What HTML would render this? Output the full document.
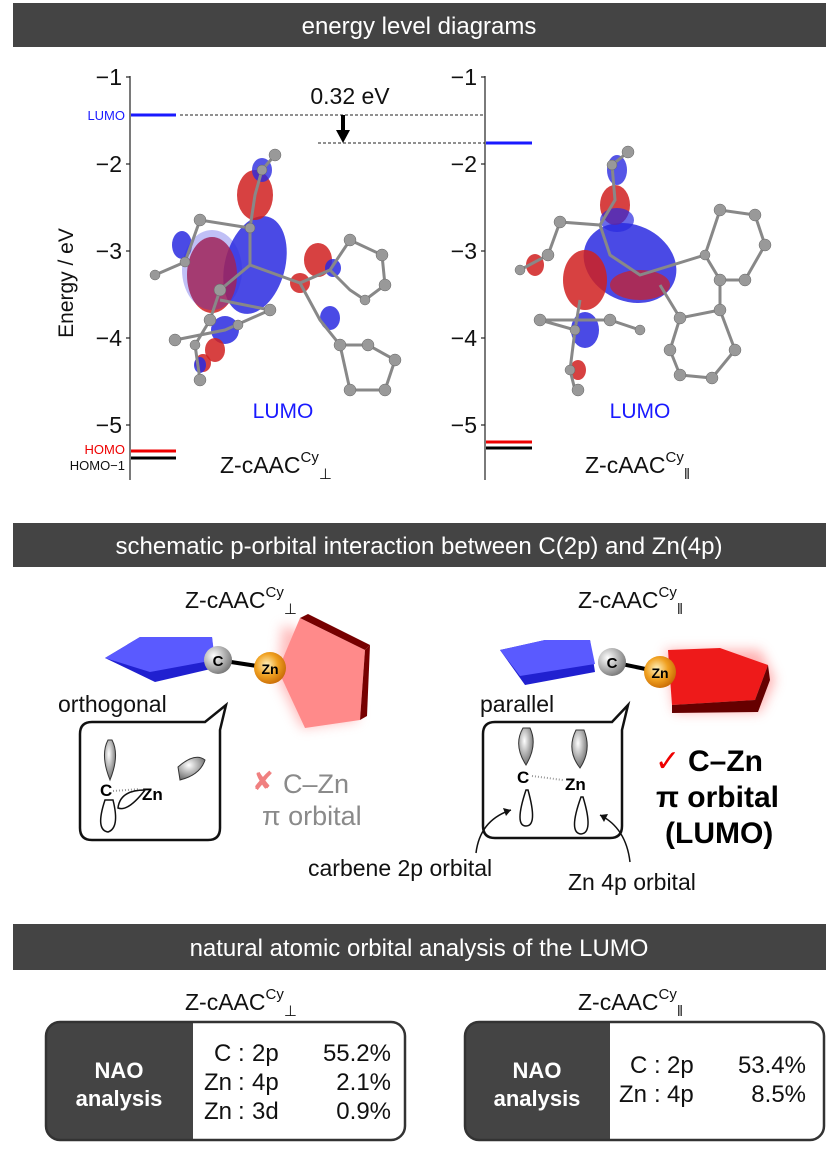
<!DOCTYPE html>
<html><head><meta charset="utf-8"><style>
html,body{margin:0;padding:0;background:#fff;}
svg{display:block;font-family:"Liberation Sans",Arial,sans-serif;}
</style></head><body>
<svg width="838" height="1158" viewBox="0 0 838 1158" xmlns="http://www.w3.org/2000/svg">
<defs>
<radialGradient id="gb" cx="35%" cy="35%" r="70%"><stop offset="0" stop-color="#fff"/><stop offset="1" stop-color="#777"/></radialGradient>
<radialGradient id="go" cx="40%" cy="40%" r="70%"><stop offset="0" stop-color="#fff3c0"/><stop offset="0.5" stop-color="#f0a020"/><stop offset="1" stop-color="#c06000"/></radialGradient>
<radialGradient id="gl" cx="40%" cy="35%" r="70%"><stop offset="0" stop-color="#fff"/><stop offset="1" stop-color="#666"/></radialGradient>
<filter id="blur" x="-30%" y="-30%" width="160%" height="160%"><feGaussianBlur stdDeviation="6"/></filter>
</defs>

<rect x="13" y="3" width="813" height="44" fill="#444"/>
<text x="419" y="34" font-size="24" fill="#fff" text-anchor="middle">energy level diagrams</text>
<rect x="13" y="523" width="813" height="44" fill="#444"/>
<text x="419" y="554" font-size="24" fill="#fff" text-anchor="middle">schematic p-orbital interaction between C(2p) and Zn(4p)</text>
<rect x="13" y="924" width="813" height="46" fill="#444"/>
<text x="419" y="956" font-size="24" fill="#fff" text-anchor="middle">natural atomic orbital analysis of the LUMO</text>

<g stroke="#222" stroke-width="1.2">
<line x1="130" y1="76" x2="130" y2="480"/>
<line x1="485" y1="76" x2="485" y2="480"/>
<line x1="126" y1="77" x2="130" y2="77"/><line x1="126" y1="164" x2="130" y2="164"/><line x1="126" y1="251" x2="130" y2="251"/><line x1="126" y1="338" x2="130" y2="338"/><line x1="126" y1="425" x2="130" y2="425"/>
<line x1="481" y1="77" x2="485" y2="77"/><line x1="481" y1="164" x2="485" y2="164"/><line x1="481" y1="251" x2="485" y2="251"/><line x1="481" y1="338" x2="485" y2="338"/><line x1="481" y1="425" x2="485" y2="425"/>
</g>
<g font-size="23" fill="#111" text-anchor="end">
<text x="122" y="85">−1</text><text x="122" y="172">−2</text><text x="122" y="259">−3</text><text x="122" y="346">−4</text><text x="122" y="433">−5</text>
<text x="477" y="85">−1</text><text x="477" y="172">−2</text><text x="477" y="259">−3</text><text x="477" y="346">−4</text><text x="477" y="433">−5</text>
</g>
<text transform="translate(73,283) rotate(-90)" font-size="21" fill="#111" text-anchor="middle">Energy / eV</text>

<line x1="131" y1="115" x2="176" y2="115" stroke="#1a1aff" stroke-width="3"/>
<line x1="131" y1="451" x2="176" y2="451" stroke="#e00" stroke-width="3"/>
<line x1="131" y1="458" x2="176" y2="458" stroke="#000" stroke-width="3"/>
<line x1="486" y1="143" x2="532" y2="143" stroke="#1a1aff" stroke-width="3"/>
<line x1="486" y1="442" x2="532" y2="442" stroke="#e00" stroke-width="3"/>
<line x1="486" y1="448" x2="532" y2="448" stroke="#000" stroke-width="3"/>
<text x="125" y="120" font-size="13" fill="#1a1aff" text-anchor="end">LUMO</text>
<text x="125" y="454" font-size="13" fill="#e00" text-anchor="end">HOMO</text>
<text x="125" y="470" font-size="13" fill="#111" text-anchor="end">HOMO−1</text>
<line x1="180" y1="115" x2="485" y2="115" stroke="#222" stroke-dasharray="3,2" stroke-width="1"/>
<line x1="318" y1="143" x2="485" y2="143" stroke="#222" stroke-dasharray="3,2" stroke-width="1"/>
<line x1="343" y1="115" x2="343" y2="132" stroke="#000" stroke-width="4"/>
<polygon points="336,130 350,130 343,143" fill="#000"/>
<text x="350" y="104" font-size="23" fill="#111" text-anchor="middle">0.32 eV</text>

<g>
<ellipse cx="255" cy="265" rx="30" ry="50" fill="#2a2ae0" opacity="0.85" transform="rotate(15 255 265)"/>
<ellipse cx="212" cy="275" rx="25" ry="38" fill="#d02020" opacity="0.85"/>
<ellipse cx="212" cy="270" rx="30" ry="40" fill="#3030e0" opacity="0.3"/>
<ellipse cx="255" cy="195" rx="18" ry="25" fill="#d02020" opacity="0.85"/>
<ellipse cx="262" cy="170" rx="10" ry="12" fill="#2a2ae0" opacity="0.8"/>
<ellipse cx="182" cy="245" rx="10" ry="14" fill="#2a2ae0" opacity="0.85"/>
<ellipse cx="318" cy="260" rx="14" ry="17" fill="#d02020" opacity="0.85"/>
<ellipse cx="300" cy="283" rx="10" ry="10" fill="#d02020" opacity="0.85"/>
<ellipse cx="333" cy="268" rx="8" ry="9" fill="#2a2ae0" opacity="0.85"/>
<ellipse cx="330" cy="318" rx="10" ry="12" fill="#2a2ae0" opacity="0.85"/>
<ellipse cx="225" cy="330" rx="14" ry="14" fill="#2a2ae0" opacity="0.85"/>
<ellipse cx="215" cy="350" rx="10" ry="12" fill="#d02020" opacity="0.85"/>
<ellipse cx="203" cy="363" rx="8" ry="9" fill="#d02020" opacity="0.85"/>
<ellipse cx="200" cy="365" rx="6" ry="8" fill="#2a2ae0" opacity="0.85"/>
<g stroke="#888" stroke-width="3" fill="none">
<polyline points="275,155 262,170 255,195 250,228 200,220 185,262 155,275"/>
<polyline points="250,228 250,265 220,290 210,320 195,345 200,380"/>
<polyline points="250,265 300,283 330,270 350,240 382,255 385,285 365,300 350,290 330,270"/>
<polyline points="300,283 320,320 340,345 368,345 395,360 385,390 350,390 340,345"/>
<polyline points="220,300 270,310 225,330 175,340"/>
</g>
<g fill="#999" stroke="#666" stroke-width="0.5">
<circle cx="275" cy="155" r="6"/><circle cx="262" cy="170" r="5"/><circle cx="250" cy="228" r="5"/><circle cx="200" cy="220" r="6"/><circle cx="185" cy="262" r="5"/><circle cx="155" cy="275" r="5"/>
<circle cx="220" cy="290" r="6"/><circle cx="210" cy="320" r="6"/><circle cx="195" cy="345" r="5"/><circle cx="200" cy="380" r="6"/>
<circle cx="350" cy="240" r="6"/><circle cx="382" cy="255" r="6"/><circle cx="385" cy="285" r="6"/><circle cx="365" cy="300" r="5"/>
<circle cx="340" cy="345" r="6"/><circle cx="368" cy="345" r="6"/><circle cx="395" cy="360" r="6"/><circle cx="385" cy="390" r="6"/><circle cx="350" cy="390" r="6"/>
<circle cx="270" cy="310" r="6"/><circle cx="175" cy="340" r="6"/><circle cx="238" cy="325" r="5"/>
</g>
</g>
<g>
<ellipse cx="630" cy="263" rx="48" ry="38" fill="#2a2ae0" opacity="0.85" transform="rotate(25 630 263)"/>
<ellipse cx="640" cy="285" rx="30" ry="15" fill="#d02020" opacity="0.7"/>
<ellipse cx="585" cy="280" rx="22" ry="30" fill="#d02020" opacity="0.85"/>
<ellipse cx="615" cy="205" rx="15" ry="20" fill="#d02020" opacity="0.85"/>
<ellipse cx="617" cy="170" rx="10" ry="15" fill="#2a2ae0" opacity="0.8"/>
<ellipse cx="617" cy="220" rx="17" ry="12" fill="#2a2ae0" opacity="0.7"/>
<ellipse cx="535" cy="265" rx="9" ry="11" fill="#d02020" opacity="0.85"/>
<ellipse cx="585" cy="330" rx="14" ry="18" fill="#2a2ae0" opacity="0.85"/>
<ellipse cx="578" cy="370" rx="8" ry="10" fill="#d02020" opacity="0.85"/>
<g stroke="#888" stroke-width="3" fill="none">
<polyline points="628,152 612,165 615,200 600,225 560,222 548,255 520,270"/>
<polyline points="600,225 610,255 640,275 705,255 720,280 745,280 765,245 755,215 720,210 705,255"/>
<polyline points="660,285 680,318 720,310 720,280"/>
<polyline points="680,318 670,350 680,375 712,378 735,350 720,310"/>
<polyline points="580,300 575,330 540,320 610,320 640,330"/>
<polyline points="575,330 570,370 575,390"/>
</g>
<g fill="#999" stroke="#666" stroke-width="0.5">
<circle cx="628" cy="152" r="6"/><circle cx="612" cy="165" r="5"/><circle cx="560" cy="222" r="6"/><circle cx="548" cy="255" r="6"/><circle cx="520" cy="270" r="5"/>
<circle cx="705" cy="255" r="5"/><circle cx="720" cy="280" r="6"/><circle cx="745" cy="280" r="6"/><circle cx="765" cy="245" r="6"/><circle cx="755" cy="215" r="6"/><circle cx="720" cy="210" r="6"/>
<circle cx="720" cy="310" r="6"/><circle cx="680" cy="318" r="6"/><circle cx="670" cy="350" r="6"/><circle cx="680" cy="375" r="6"/><circle cx="712" cy="378" r="6"/><circle cx="735" cy="350" r="6"/>
<circle cx="540" cy="320" r="6"/><circle cx="610" cy="320" r="6"/><circle cx="640" cy="330" r="5"/><circle cx="575" cy="330" r="5"/><circle cx="570" cy="370" r="5"/><circle cx="578" cy="390" r="6"/>
</g>
</g>
<text x="283" y="418" font-size="21" fill="#1a1aff" text-anchor="middle">LUMO</text>
<text x="640" y="418" font-size="21" fill="#1a1aff" text-anchor="middle">LUMO</text>
<text x="220" y="473" font-size="23" fill="#111">Z-cAAC<tspan font-size="15" dy="-11">Cy</tspan><tspan font-size="15" dy="17">⊥</tspan></text>
<text x="585" y="473" font-size="23" fill="#111">Z-cAAC<tspan font-size="15" dy="-11">Cy</tspan><tspan font-size="15" dy="17">‖</tspan></text>

<text x="185" y="608" font-size="23" fill="#111">Z-cAAC<tspan font-size="15" dy="-11">Cy</tspan><tspan font-size="15" dy="17">⊥</tspan></text>
<text x="578" y="608" font-size="23" fill="#111">Z-cAAC<tspan font-size="15" dy="-11">Cy</tspan><tspan font-size="15" dy="17">‖</tspan></text>

<polygon points="282,625 352,650 358,720 302,728 278,680" fill="#ff9090" filter="url(#blur)" opacity="0.6"/>
<polygon points="105,658 140,637 212,637 215,668 155,682" fill="#2020d0"/>
<polygon points="105,658 140,637 212,637 215,660 150,672" fill="#5a5aff"/>
<polygon points="300,618 365,650 360,720 305,728 278,670" fill="#ff8a8a"/>
<polygon points="300,618 308,614 370,645 365,650" fill="#700"/>
<polygon points="365,650 370,645 367,716 360,720" fill="#700"/>
<line x1="218" y1="660" x2="270" y2="668" stroke="#000" stroke-width="4"/>
<circle cx="218" cy="660" r="14" fill="url(#gb)"/><text x="218" y="666" font-size="15" font-weight="bold" text-anchor="middle">C</text>
<circle cx="270" cy="668" r="16" fill="url(#go)"/><text x="270" y="674" font-size="14" font-weight="bold" text-anchor="middle">Zn</text>
<text x="58" y="712" font-size="23" fill="#111">orthogonal</text>
<path d="M92,722 H205 L226,705 L220,730 V828 Q220,840 208,840 H92 Q80,840 80,828 V734 Q80,722 92,722 Z" fill="none" stroke="#111" stroke-width="2.5"/>
<path d="M108,740 Q100,755 110,780 Q120,755 112,740 Z" fill="url(#gl)" stroke="#333"/>
<path d="M178,767 Q195,752 205,760 Q200,775 180,780 Z" fill="url(#gl)" stroke="#333"/>
<text x="100" y="796" font-size="17" font-weight="bold">C</text>
<line x1="113" y1="791" x2="140" y2="789" stroke="#999" stroke-dasharray="1,2" stroke-width="2"/>
<text x="142" y="800" font-size="17" font-weight="bold">Zn</text>
<path d="M105,800 Q95,830 108,832 Q120,828 113,800 Z" fill="#fff" stroke="#111" stroke-width="1.5"/>
<path d="M145,790 Q120,790 118,808 Q128,812 145,790 Z" fill="#fff" stroke="#111" stroke-width="1.5"/>
<text x="252" y="790" font-size="26" fill="#f08080">✘</text>
<text x="283" y="793" font-size="27" fill="#8a8a8a">C–Zn</text>
<text x="262" y="825" font-size="27" fill="#8a8a8a">π orbital</text>

<polygon points="665,650 760,650 775,680 760,712 675,712" fill="#ff6060" filter="url(#blur)" opacity="0.5"/>
<polygon points="500,650 545,640 590,640 595,672 525,685" fill="#2020d0"/>
<polygon points="500,650 545,640 590,640 595,664 520,676" fill="#5a5aff"/>
<polygon points="668,650 720,648 768,665 755,700 672,705" fill="#ee1a1a"/>
<polygon points="672,705 755,700 768,665 770,680 758,712 672,713" fill="#600"/>
<line x1="612" y1="662" x2="660" y2="672" stroke="#000" stroke-width="4"/>
<circle cx="612" cy="662" r="14" fill="url(#gb)"/><text x="612" y="668" font-size="15" font-weight="bold" text-anchor="middle">C</text>
<circle cx="660" cy="672" r="16" fill="url(#go)"/><text x="660" y="678" font-size="14" font-weight="bold" text-anchor="middle">Zn</text>
<text x="480" y="712" font-size="23" fill="#111">parallel</text>
<path d="M495,722 H612 L628,705 L622,730 V826 Q622,838 610,838 H495 Q483,838 483,826 V734 Q483,722 495,722 Z" fill="none" stroke="#111" stroke-width="2.5"/>
<path d="M523,728 Q513,745 526,765 Q538,745 530,728 Z" fill="url(#gl)" stroke="#333"/>
<path d="M576,730 Q566,750 580,768 Q592,750 584,730 Z" fill="url(#gl)" stroke="#333"/>
<text x="517" y="783" font-size="17" font-weight="bold">C</text>
<line x1="532" y1="776" x2="563" y2="780" stroke="#999" stroke-dasharray="1,2" stroke-width="2"/>
<text x="565" y="790" font-size="17" font-weight="bold">Zn</text>
<path d="M526,790 Q514,826 526,826 Q538,826 528,790 Z" fill="#fff" stroke="#111" stroke-width="1.5"/>
<path d="M581,797 Q568,833 581,834 Q594,833 583,797 Z" fill="#fff" stroke="#111" stroke-width="1.5"/>
<path d="M476,853 Q480,820 511,810" fill="none" stroke="#111" stroke-width="1.5"/>
<polygon points="511,810 503,808 506,816" fill="#111"/>
<path d="M630,862 Q626,828 600,815" fill="none" stroke="#111" stroke-width="1.5"/>
<polygon points="600,815 608,814 604,822" fill="#111"/>
<text x="308" y="876" font-size="23" fill="#111">carbene 2p orbital</text>
<text x="568" y="890" font-size="23" fill="#111">Zn 4p orbital</text>
<text x="655" y="771" font-size="30" fill="#e00">✓</text>
<text x="688" y="771" font-size="30" font-weight="bold" fill="#000">C–Zn</text>
<text x="656" y="807" font-size="30" font-weight="bold" fill="#000">π orbital</text>
<text x="665" y="843" font-size="30" font-weight="bold" fill="#000">(LUMO)</text>

<text x="185" y="1010" font-size="23" fill="#111">Z-cAAC<tspan font-size="15" dy="-11">Cy</tspan><tspan font-size="15" dy="17">⊥</tspan></text>
<text x="578" y="1010" font-size="23" fill="#111">Z-cAAC<tspan font-size="15" dy="-11">Cy</tspan><tspan font-size="15" dy="17">‖</tspan></text>

<path d="M60,1022 H193 V1140 H60 Q46,1140 46,1126 V1036 Q46,1022 60,1022 Z" fill="#444"/>
<rect x="46" y="1022" width="359" height="118" rx="14" fill="none" stroke="#333" stroke-width="2.5"/>
<text x="119" y="1078" font-size="22" font-weight="bold" fill="#fff" text-anchor="middle">NAO</text>
<text x="119" y="1106" font-size="22" font-weight="bold" fill="#fff" text-anchor="middle">analysis</text>
<g font-size="24" fill="#111">
<text x="214" y="1061">C</text><text x="238" y="1061">:</text><text x="252" y="1061">2p</text><text x="391" y="1061" text-anchor="end">55.2%</text>
<text x="204" y="1090">Zn</text><text x="238" y="1090">:</text><text x="252" y="1090">4p</text><text x="391" y="1090" text-anchor="end">2.1%</text>
<text x="204" y="1119">Zn</text><text x="238" y="1119">:</text><text x="252" y="1119">3d</text><text x="391" y="1119" text-anchor="end">0.9%</text>
</g>

<path d="M479,1022 H610 V1140 H479 Q465,1140 465,1126 V1036 Q465,1022 479,1022 Z" fill="#444"/>
<rect x="465" y="1022" width="359" height="118" rx="14" fill="none" stroke="#333" stroke-width="2.5"/>
<text x="537" y="1078" font-size="22" font-weight="bold" fill="#fff" text-anchor="middle">NAO</text>
<text x="537" y="1106" font-size="22" font-weight="bold" fill="#fff" text-anchor="middle">analysis</text>
<g font-size="24" fill="#111">
<text x="630" y="1073">C</text><text x="654" y="1073">:</text><text x="667" y="1073">2p</text><text x="806" y="1073" text-anchor="end">53.4%</text>
<text x="619" y="1102">Zn</text><text x="654" y="1102">:</text><text x="667" y="1102">4p</text><text x="806" y="1102" text-anchor="end">8.5%</text>
</g>
</svg>
</body></html>
